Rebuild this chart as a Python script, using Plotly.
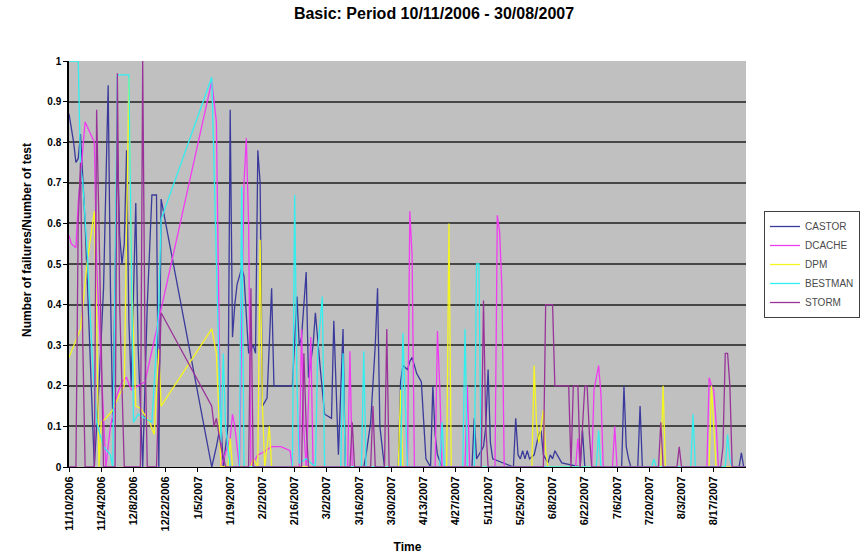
import pandas as pd
import plotly.graph_objects as go

# Daily failure ratios (failures / tests); days counted from 11/10/2006
start_date = "2006-11-10"

castor_day = [0, 2, 3, 4, 5, 6, 7, 9, 11, 13, 15, 17, 18, 19, 21, 22, 23, 24, 25, 26, 27, 29, 30, 32, 33, 34, 36, 38, 39, 40,
              62, 64, 66, 67, 69, 70, 71, 72, 73, 75, 76, 78, 80, 81, 82, 83, 84, 86, 88, 89, 97, 99, 100, 101, 103, 104, 106,
              107, 109, 111, 114, 115, 117, 119, 120, 128, 129, 131, 133, 134, 135, 137, 143, 144, 145, 147, 148, 149, 151,
              153, 155, 157, 158, 159, 160, 162, 175, 176, 177, 180, 181, 182, 183, 184, 193, 194, 195, 196, 197, 198, 199,
              200, 202, 204, 205, 206, 208, 209, 210, 211, 212, 214, 222, 223, 224, 240, 241, 242, 243, 244, 247, 248, 249,
              291, 292, 293]
castor_val = [0.87, 0.80, 0.75, 0.76, 0.82, 0.72, 0.60, 0.30, 0.0, 0.20, 0.44, 0.94, 0.44, 0.11, 0.79, 0.57, 0.50, 0.55,
              0.78, 0.36, 0.20, 0.65, 0.30, 0.0, 0.19, 0.40, 0.67, 0.67, 0.0, 0.66,
              0.0, 0.05, 0.11, 0.0, 0.10, 0.88, 0.32, 0.40, 0.45, 0.49, 0.47, 0.28, 0.30, 0.28, 0.78, 0.70, 0.15, 0.17, 0.44,
              0.20, 0.20, 0.42, 0.30, 0.32, 0.48, 0.22, 0.30, 0.38, 0.25, 0.13, 0.12, 0.36, 0.03, 0.34, 0.0, 0.0, 0.03, 0.11,
              0.30, 0.44, 0.10, 0.0, 0.0, 0.21, 0.25, 0.24, 0.26, 0.27, 0.23, 0.21, 0.02, 0.0, 0.20, 0.08, 0.03, 0.0, 0.0,
              0.12, 0.02, 0.05, 0.10, 0.24, 0.06, 0.02, 0.0, 0.12, 0.03, 0.02, 0.04, 0.02, 0.04, 0.02, 0.03, 0.08, 0.09,
              0.03, 0.01, 0.03, 0.02, 0.04, 0.03, 0.01, 0.0, 0.09, 0.0, 0.0, 0.20, 0.05, 0.02, 0.0, 0.0, 0.15, 0.0,
              0.0, 0.035, 0.0]

dcache_day = [0, 1, 3, 4, 7, 11, 12, 16, 18, 21, 23, 25, 27, 30, 33, 62, 64, 66, 70, 71, 72, 74, 76, 77, 78, 79, 82, 84,
              88, 92, 96, 97, 100, 101, 102, 103, 105, 106, 121, 122, 123, 147, 148, 149, 150, 159, 160, 161, 162, 172,
              173, 174, 185, 186, 187, 188, 189, 220, 221, 222, 227, 228, 230, 231, 232, 236, 237, 238, 277, 278, 279,
              280, 281, 282, 294]
dcache_val = [0.57, 0.55, 0.54, 0.65, 0.85, 0.80, 0.50, 0.0, 0.10, 0.18, 0.21, 0.22, 0.19, 0.20, 0.21, 0.95, 0.85, 0.0,
              0.07, 0.13, 0.10, 0.0, 0.70, 0.81, 0.60, 0.0, 0.03, 0.035, 0.05, 0.05, 0.04, 0.0, 0.0, 0.34, 0.09, 0.0, 0.32,
              0.0, 0.0, 0.285, 0.0, 0.0, 0.63, 0.52, 0.0, 0.0, 0.335, 0.20, 0.0, 0.0, 0.20, 0.0, 0.0, 0.62, 0.58, 0.44, 0.0,
              0.0, 0.07, 0.0, 0.0, 0.19, 0.25, 0.18, 0.0, 0.0, 0.10, 0.0, 0.0, 0.22, 0.20, 0.19, 0.11, 0.0, 0.0]

dpm_day = [0, 5, 8, 11, 12, 13, 14, 16, 19, 22, 24, 26, 27, 29, 31, 35, 37, 39, 40, 62, 64, 66, 69, 70, 71, 79, 80, 82,
           83, 84, 85, 87, 88, 143, 144, 145, 164, 165, 166, 201, 202, 203, 204, 206, 207, 208, 257, 258, 259, 278, 279,
           280, 281, 294]
dpm_val = [0.27, 0.34, 0.51, 0.63, 0.36, 0.0, 0.11, 0.12, 0.14, 0.18, 0.20, 0.96, 0.50, 0.15, 0.145, 0.11, 0.08, 0.29,
           0.15, 0.34, 0.28, 0.0, 0.0, 0.07, 0.0, 0.0, 0.02, 0.0, 0.56, 0.15, 0.0, 0.10, 0.0, 0.0, 0.19, 0.0, 0.0, 0.60,
           0.0, 0.0, 0.25, 0.11, 0.06, 0.14, 0.04, 0.0, 0.0, 0.20, 0.0, 0.0, 0.20, 0.11, 0.0, 0.0]

bestman_day = [0, 4, 5, 6, 8, 10, 12, 15, 18, 19, 21, 26, 28, 30, 33, 36, 39, 40, 62, 64, 66, 67, 68, 70, 74, 75, 76, 97,
               98, 99, 100, 103, 107, 108, 110, 111, 118, 119, 120, 127, 128, 129, 144, 145, 146, 147, 161, 162, 163, 171,
               172, 173, 176, 177, 178, 179, 229, 230, 231, 253, 254, 255, 270, 271, 272, 285, 286, 287, 288, 294]
bestman_val = [1.0, 1.0, 0.74, 0.70, 0.52, 0.28, 0.11, 0.05, 0.03, 0.0, 0.966, 0.966, 0.11, 0.13, 0.12, 0.11, 0.40, 0.61,
               0.96, 0.52, 0.06, 0.28, 0.10, 0.0, 0.0, 0.69, 0.0, 0.0, 0.67, 0.20, 0.01, 0.02, 0.0, 0.285, 0.42, 0.0, 0.0,
               0.28, 0.0, 0.0, 0.285, 0.0, 0.0, 0.33, 0.15, 0.0, 0.0, 0.11, 0.0, 0.0, 0.34, 0.0, 0.0, 0.50, 0.50, 0.0,
               0.0, 0.09, 0.0, 0.0, 0.02, 0.0, 0.0, 0.13, 0.0, 0.0, 0.08, 0.02, 0.0, 0.0]

storm_day = [0, 3, 4, 5, 6, 7, 11, 12, 13, 15, 20, 21, 22, 23, 24, 31, 32, 33, 34, 38, 40, 62, 63, 64, 66, 68, 78, 79, 80,
             101, 102, 103, 104, 122, 123, 124, 131, 132, 133, 137, 138, 139, 179, 180, 181, 182, 206, 207, 210, 211, 217,
             218, 219, 221, 222, 224, 225, 226, 227, 256, 257, 258, 264, 265, 266, 283, 284, 285, 286, 287, 288, 294]
storm_val = [0.0, 0.0, 0.60, 0.75, 0.30, 0.0, 0.0, 0.88, 0.60, 0.0, 0.0, 0.97, 0.40, 0.20, 0.0, 0.0, 1.0, 0.30, 0.0, 0.0,
             0.38, 0.15, 0.10, 0.12, 0.05, 0.0, 0.0, 0.44, 0.0, 0.0, 0.28, 0.10, 0.0, 0.0, 0.11, 0.0, 0.0, 0.15, 0.0, 0.0,
             0.34, 0.0, 0.0, 0.41, 0.10, 0.0, 0.0, 0.40, 0.40, 0.20, 0.20, 0.0, 0.20, 0.20, 0.0, 0.20, 0.20, 0.08, 0.0,
             0.0, 0.11, 0.0, 0.0, 0.05, 0.0, 0.0, 0.05, 0.28, 0.28, 0.20, 0.0, 0.0]

tick_labels = ["11/10/2006", "11/24/2006", "12/8/2006", "12/22/2006", "1/5/2007", "1/19/2007", "2/2/2007",
               "2/16/2007", "3/2/2007", "3/16/2007", "3/30/2007", "4/13/2007", "4/27/2007", "5/11/2007",
               "5/25/2007", "6/8/2007", "6/22/2007", "7/6/2007", "7/20/2007", "8/3/2007", "8/17/2007"]

series = [
    ("CASTOR", castor_day, castor_val, "#3a3a9c"),
    ("DCACHE", dcache_day, dcache_val, "#f03cf0"),
    ("DPM", dpm_day, dpm_val, "#f5f520"),
    ("BESTMAN", bestman_day, bestman_val, "#33eeee"),
    ("STORM", storm_day, storm_val, "#993399"),
]

t0 = pd.Timestamp(start_date)
fig = go.Figure()
for name, days, vals, color in series:
    x = t0 + pd.to_timedelta(days, unit="D")
    fig.add_trace(go.Scatter(x=x, y=vals, mode="lines", name=name,
                             line=dict(color=color, width=1.3)))

tick_vals = pd.to_datetime(tick_labels, format="%m/%d/%Y")
bold = "Liberation Sans, Arial, sans-serif"

fig.update_layout(
    width=867, height=557,
    margin=dict(l=69, r=121, t=61, b=90, autoexpand=False),
    paper_bgcolor="white",
    plot_bgcolor="#c0c0c0",
    font=dict(family=bold, color="black"),
    title=dict(text="<b>Basic: Period 10/11/2006 - 30/08/2007</b>",
               font=dict(size=16, family=bold, color="black"),
               x=434 / 867, xref="container", xanchor="center",
               y=1 - 13 / 557, yref="container", yanchor="middle"),
    xaxis=dict(
        type="date", automargin=False,
        range=[t0, t0 + pd.Timedelta(days=294)],
        tickmode="array", tickvals=tick_vals, ticktext=[f"<b>{t}</b>" for t in tick_labels],
        tickangle=-90, tickfont=dict(size=11, family=bold, color="black"),
        ticks="outside", ticklen=4, tickcolor="black",
        showgrid=False, showline=True, linecolor="black", linewidth=1,
        zeroline=False,
        title=dict(text="<b>Time</b>", font=dict(size=12, family=bold, color="black"), standoff=12),
    ),
    yaxis=dict(
        automargin=False,
        range=[0, 1], tickmode="array", tickvals=[i / 10 for i in range(11)],
        ticktext=["<b>0</b>"] + [f"<b>0.{i}</b>" for i in range(1, 10)] + ["<b>1</b>"],
        tickfont=dict(size=10, family=bold, color="black"),
        ticks="outside", ticklen=4, tickcolor="black",
        showgrid=True, gridcolor="#474747", gridwidth=1.6,
        showline=True, linecolor="black", linewidth=1.5,
        zeroline=False,
    ),
    annotations=[dict(
        text="<b>Number of failures/Number of test</b>", textangle=-90,
        font=dict(size=12, family=bold, color="black"),
        x=27 / 867, y=1 - 240 / 557, xref="paper", yref="paper",
        showarrow=False, xanchor="center", yanchor="middle",
    )],
    legend=dict(
        x=(764 - 69) / 677, y=(467 - 211) / 406, xanchor="left", yanchor="top",
        bgcolor="white", bordercolor="#404040", borderwidth=1,
        font=dict(size=10, family=bold, color="#4a4a4a"),
        itemwidth=30, tracegroupgap=0,
    ),
    showlegend=True,
)

# annotation coordinates above are in container pixels; convert to paper space
pw, ph = 867 - 69 - 121, 557 - 61 - 90
fig.layout.annotations[0].x = (27 - 69) / pw
fig.layout.annotations[0].y = (467 - 240) / ph

fig.write_html("out.html")
